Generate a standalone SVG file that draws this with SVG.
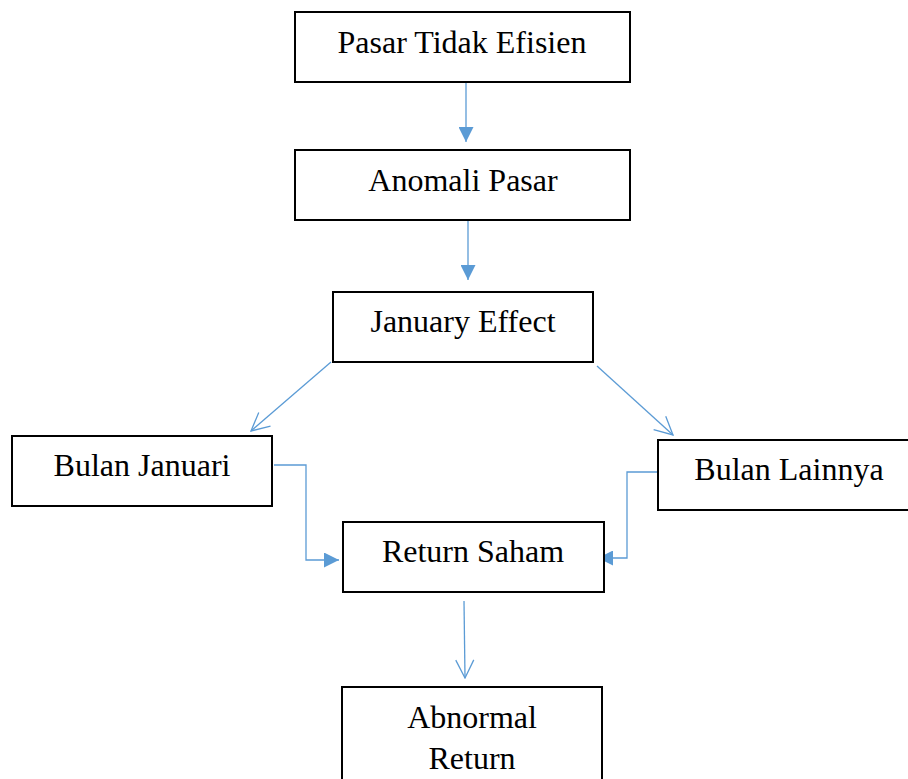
<svg xmlns="http://www.w3.org/2000/svg" width="908" height="779" viewBox="0 0 908 779">
<defs>
<style>
.box{fill:#fff;stroke:#000;stroke-width:2}
.t{font-family:"Liberation Serif","Times New Roman",serif;font-size:32px;fill:#000;text-anchor:middle}
.c{fill:none;stroke:#5B9BD5;stroke-width:1.3}
</style>
<marker id="fa" viewBox="0 0 10 10" refX="10" refY="5" markerUnits="userSpaceOnUse" markerWidth="15" markerHeight="15" orient="auto">
<path d="M0,0 L10,5 L0,10 Z" fill="#5B9BD5"/>
</marker>
<marker id="oa" viewBox="0 0 20 20" refX="19" refY="10" markerUnits="userSpaceOnUse" markerWidth="20" markerHeight="20" orient="auto">
<path d="M1,1 L19,10 L1,19" fill="none" stroke="#5B9BD5" stroke-width="1.3"/>
</marker>
</defs>
<rect width="908" height="779" fill="#fff"/>
<g id="connectors">
<line class="c" x1="466" y1="83" x2="466" y2="142" marker-end="url(#fa)"/>
<line class="c" x1="468" y1="221" x2="468" y2="280" marker-end="url(#fa)"/>
<line class="c" x1="331" y1="362" x2="251" y2="431" marker-end="url(#oa)"/>
<line class="c" x1="597" y1="366" x2="673" y2="435" marker-end="url(#oa)"/>
<polyline class="c" points="274,465 306,465 306,560 339,560" marker-end="url(#fa)"/>
<polyline class="c" points="657,472 627,472 627,558 598,558" marker-end="url(#fa)"/>
<line class="c" x1="464" y1="601" x2="465" y2="678" marker-end="url(#oa)"/>
</g>
<g id="n1"><rect class="box" x="295" y="12" width="335" height="70"/><text class="t" x="462" y="53">Pasar Tidak Efisien</text></g>
<g id="n2"><rect class="box" x="295" y="150" width="335" height="70"/><text class="t" x="463" y="191">Anomali Pasar</text></g>
<g id="n3"><rect class="box" x="333" y="292" width="260" height="70"/><text class="t" x="463" y="332">January Effect</text></g>
<g id="n4"><rect class="box" x="12" y="436" width="260" height="70"/><text class="t" x="142" y="476">Bulan Januari</text></g>
<g id="n5"><rect class="box" x="658" y="440" width="270" height="70"/><text class="t" x="789" y="480">Bulan Lainnya</text></g>
<g id="n6"><rect class="box" x="343" y="522" width="261" height="70"/><text class="t" x="473" y="562">Return Saham</text></g>
<g id="n7"><rect class="box" x="342" y="687" width="260" height="100"/><text class="t" x="472" y="728">Abnormal</text><text class="t" x="472" y="769">Return</text></g>
</svg>
